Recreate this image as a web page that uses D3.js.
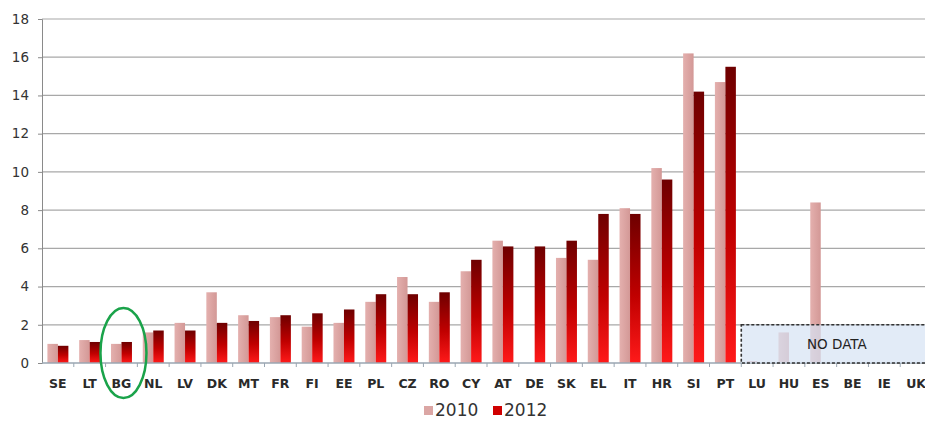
<html>
  <head>
    <meta charset="utf-8">
    <script src="https://d3js.org/d3.v7.min.js"></script>
    <style>
      body { margin: 0; background: #fff; }
      text { font-family: "DejaVu Sans", sans-serif; }
    </style>
  </head>
  <body>
    <svg id="chart" width="925" height="421"></svg>
    <script>
      // data
      const countries = ["SE", "LT", "BG", "NL", "LV", "DK", "MT", "FR", "FI", "EE",
                         "PL", "CZ", "RO", "CY", "AT", "DE", "SK", "EL", "IT", "HR",
                         "SI", "PT", "LU", "HU", "ES", "BE", "IE", "UK"];
      const values2010 = [1.0, 1.2, 1.0, 1.6, 2.1, 3.7, 2.5, 2.4, 1.9, 2.1,
                          3.2, 4.5, 3.2, 4.8, 6.4, null, 5.5, 5.4, 8.1, 10.2,
                          16.2, 14.7, 0.1, 1.6, 8.4, null, null, null];
      const values2012 = [0.9, 1.1, 1.1, 1.7, 1.7, 2.1, 2.2, 2.5, 2.6, 2.8,
                          3.6, 3.6, 3.7, 5.4, 6.1, 6.1, 6.4, 7.8, 7.8, 9.6,
                          14.2, 15.5, null, null, null, null, null, null];
      const years = ["2010", "2012"];
      const yTicks = [0, 2, 4, 6, 8, 10, 12, 14, 16, 18];
      const noDataFrom = "LU";
      const noDataTop = 2;
      const highlighted = "BG";

      const svg = d3.select("svg#chart");
      const margin = { top: 19, right: -7, bottom: 58, left: 42 };
      const width = +svg.attr("width");
      const height = +svg.attr("height");

      let x = d3.scaleBand()
                .domain(countries)
                .range([margin.left, width - margin.right])
                .paddingInner(0.34)
                .paddingOuter(0.17);
      let x1 = d3.scaleBand().domain(years).range([0, x.bandwidth()]);
      let y = d3.scaleLinear().domain([0, 18]).range([height - margin.bottom, margin.top]);

      let defs = svg.append("defs");
      let grad = defs.append("linearGradient")
                     .attr("id", "red12")
                     .attr("x1", 0).attr("y1", 0).attr("x2", 0).attr("y2", 1);
      grad.append("stop").attr("offset", "0%").attr("stop-color", "#6e0000");
      grad.append("stop").attr("offset", "55%").attr("stop-color", "#c00000");
      grad.append("stop").attr("offset", "100%").attr("stop-color", "#ff1a1a");

      let grad10 = defs.append("linearGradient")
                       .attr("id", "pink10")
                       .attr("x1", 0).attr("y1", 0).attr("x2", 1).attr("y2", 0);
      grad10.append("stop").attr("offset", "0%").attr("stop-color", "#e4b0ae");
      grad10.append("stop").attr("offset", "100%").attr("stop-color", "#d39896");

      // gridlines
      svg.append("g")
         .selectAll("line.grid").data(yTicks.filter(d => d > 0))
         .join("line")
         .attr("class", "grid")
         .attr("x1", margin.left).attr("x2", width)
         .attr("y1", d => y(d)).attr("y2", d => y(d))
         .attr("stroke", "#a8a8a8").attr("stroke-width", 1.2);

      // y axis
      let yAxis = svg.append("g")
                     .attr("transform", "translate(" + margin.left + ",0)")
                     .call(d3.axisLeft(y).tickValues(yTicks).tickSize(4).tickPadding(9));
      yAxis.select(".domain").attr("stroke", "#8a8a8a");
      yAxis.selectAll(".tick line").attr("stroke", "#8a8a8a");
      yAxis.selectAll("text").attr("font-size", 13.5).attr("fill", "#333");

      // bars
      let rows = countries.map((c, i) => ({ c: c, v: [values2010[i], values2012[i]] }));
      let groups = svg.append("g").selectAll("g.country").data(rows)
                      .join("g")
                      .attr("class", "country")
                      .attr("transform", d => "translate(" + x(d.c) + ",0)");
      groups.selectAll("rect")
            .data(d => years.map((yr, k) => ({ yr: yr, v: d.v[k] })).filter(e => e.v !== null))
            .join("rect")
            .attr("x", d => x1(d.yr))
            .attr("width", x1.bandwidth())
            .attr("y", d => y(d.v))
            .attr("height", d => y(0) - y(d.v))
            .attr("fill", d => d.yr === "2010" ? "url(#pink10)" : "url(#red12)");

      // x axis
      let step = x.step();
      let xAxis = svg.append("g")
                     .attr("transform", "translate(0," + y(0) + ")");
      xAxis.append("line")
           .attr("x1", margin.left).attr("x2", width)
           .attr("stroke", "#9aa6b2").attr("stroke-width", 1.3);
      xAxis.selectAll("line.tick").data(countries)
           .join("line")
           .attr("class", "tick")
           .attr("x1", d => x(d) - x.paddingOuter() * step + step)
           .attr("x2", d => x(d) - x.paddingOuter() * step + step)
           .attr("y1", 0).attr("y2", 4)
           .attr("stroke", "#9aa6b2");
      xAxis.selectAll("text").data(countries)
           .join("text")
           .attr("x", d => x(d) + x.bandwidth() / 2)
           .attr("y", 25)
           .attr("text-anchor", "middle")
           .attr("font-size", 12.5)
           .attr("font-weight", "bold")
           .attr("fill", "#2a2a2a")
           .text(d => d);

      // no data box
      let boxX = x(noDataFrom) - x.paddingInner() * step / 2;
      svg.append("rect")
         .attr("x", boxX)
         .attr("y", y(noDataTop))
         .attr("width", width - boxX + 4)
         .attr("height", y(0) - y(noDataTop))
         .attr("fill", "#d6e3f3")
         .attr("fill-opacity", 0.7)
         .attr("stroke", "#333")
         .attr("stroke-width", 1.6)
         .attr("stroke-dasharray", "3,2");
      svg.append("text")
         .attr("x", x("HU") + x.bandwidth() / 2 + 18)
         .attr("y", (y(noDataTop) + y(0)) / 2 + 5)
         .attr("font-size", 13.5)
         .attr("fill", "#222")
         .text("NO DATA");

      // highlight ellipse
      svg.append("ellipse")
         .attr("cx", x(highlighted) + x.bandwidth() / 2 + 2)
         .attr("cy", y(0) - 10)
         .attr("rx", 23)
         .attr("ry", 45)
         .attr("fill", "none")
         .attr("stroke", "#1aa34a")
         .attr("stroke-width", 2.5);

      // legend
      let legend = svg.append("g").attr("transform", "translate(424,416)");
      let legendItems = legend.selectAll("g").data(years)
                              .join("g")
                              .attr("transform", (d, i) => "translate(" + i * 69 + ",0)");
      legendItems.append("rect")
                 .attr("x", 0).attr("y", -10)
                 .attr("width", 9).attr("height", 9)
                 .attr("fill", d => d === "2010" ? "#dba6a4" : "#d00000");
      legendItems.append("text")
                 .attr("x", 11).attr("y", 0)
                 .attr("font-size", 17)
                 .attr("fill", "#333")
                 .text(d => d);
    </script>
  </body>
</html>
